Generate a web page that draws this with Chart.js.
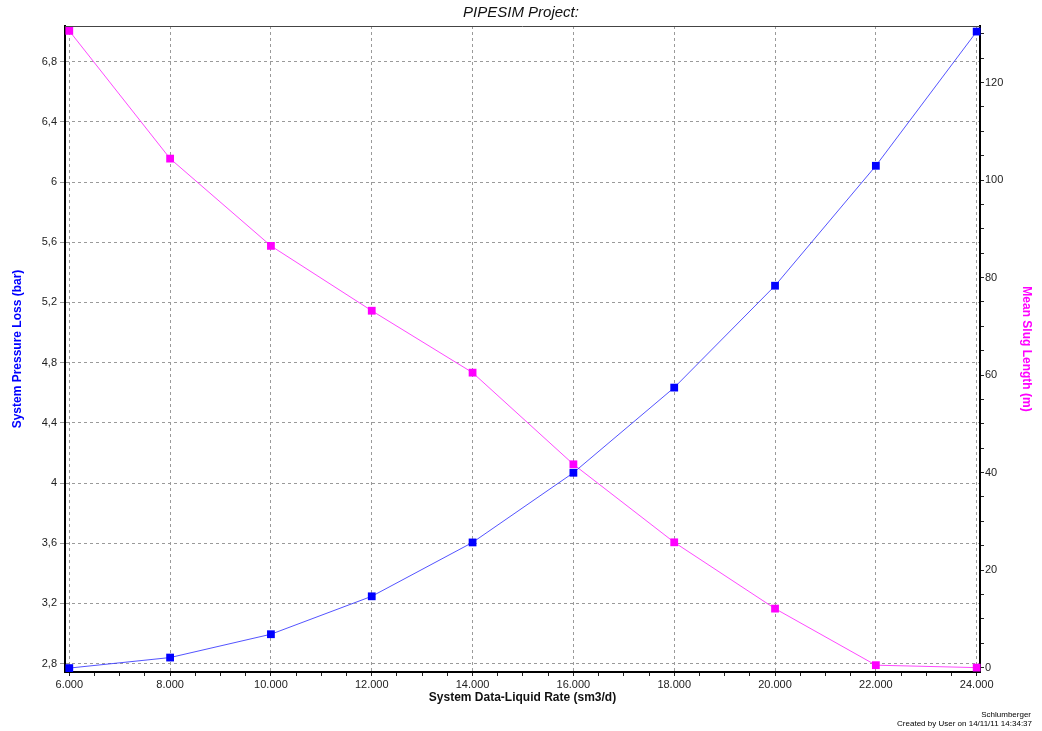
<!DOCTYPE html>
<html>
<head>
<meta charset="utf-8">
<script src="https://cdn.jsdelivr.net/npm/chart.js@4.4.0/dist/chart.umd.min.js"></script>
<style>
body { margin: 0; background: #fff; }
#wrap { width: 1042px; height: 731px; }
</style>
</head>
<body>
<div id="wrap"><canvas id="pipesim-chart" width="1042" height="731"></canvas></div>
<script>
const canvas = document.getElementById('pipesim-chart')

// data
const liquidRates = [6000, 8000, 10000, 12000, 14000, 16000, 18000, 20000, 22000, 24000]
const pressureLoss = [2.77, 2.84, 2.995, 3.247, 3.605, 4.068, 4.634, 5.311, 6.108, 7.0]
const slugLength = [130.6, 104.4, 86.5, 73.2, 60.5, 41.7, 25.7, 12.1, 0.5, 0.0]

// tick labels
const xTicks = [6000, 8000, 10000, 12000, 14000, 16000, 18000, 20000, 22000, 24000]
const leftTicks = [2.8, 3.2, 3.6, 4, 4.4, 4.8, 5.2, 5.6, 6, 6.4, 6.8]
const rightTicks = [0, 20, 40, 60, 80, 100, 120]

const gridGrey = '#9a9a9a'
const labelFont = { family: 'Liberation Sans, Arial, sans-serif', size: 11 }

function xyPoints(values) {
    return liquidRates.map((x, i) => ({ x: x, y: values[i] }))
}

function minorTicks(from, to, step) {
    const out = []
    for (let v = from; v <= to + 0.0001; v += step) out.push({ value: v })
    return out
}

const footerPlugin = {
    id: 'footer',
    afterDraw(chart) {
        const ctx = chart.ctx
        const area = chart.chartArea
        ctx.save()
        // thin top frame line
        ctx.strokeStyle = '#444'
        ctx.lineWidth = 1
        ctx.beginPath()
        ctx.moveTo(area.left, area.top + 0.5)
        ctx.lineTo(area.right, area.top + 0.5)
        ctx.stroke()
        ctx.fillStyle = '#000'
        ctx.textAlign = 'right'
        ctx.textBaseline = 'middle'
        ctx.font = '8px Liberation Sans, Arial, sans-serif'
        ctx.fillText('Schlumberger', 1031, 715)
        ctx.fillText('Created by User on 14/11/11 14:34:37', 1032, 724)
        ctx.restore()
    }
}

const pipesimData = {
    datasets: [{
        label: 'System Pressure Loss (bar)',
        data: xyPoints(pressureLoss),
        yAxisID: 'y',
        borderColor: 'rgba(40, 40, 255, 0.8)',
        backgroundColor: '#0000ff',
        borderWidth: 1,
        pointStyle: 'rect',
        pointRadius: 5.5,
        pointBorderWidth: 0,
        clip: false
    }, {
        label: 'Mean Slug Length (m)',
        data: xyPoints(slugLength),
        yAxisID: 'y1',
        borderColor: 'rgba(255, 40, 255, 0.85)',
        backgroundColor: '#ff00ff',
        borderWidth: 1,
        pointStyle: 'rect',
        pointRadius: 5.5,
        pointBorderWidth: 0,
        clip: false
    }]
}

const pipesimOptions = {
    responsive: false,
    animation: false,
    layout: { padding: 0 },
    plugins: {
        legend: { display: false },
        tooltip: { enabled: false },
        title: {
            display: true,
            text: 'PIPESIM Project:',
            color: '#111',
            font: { family: 'Liberation Sans, Arial, sans-serif', size: 15, style: 'italic', weight: 'normal', lineHeight: 1.2 },
            padding: { top: 4, bottom: 4 }
        }
    },
    scales: {
        x: {
            type: 'linear',
            min: 5915,
            max: 24066,
            afterBuildTicks: scale => { scale.ticks = minorTicks(6000, 24000, 500) },
            afterFit: scale => { scale.height = 59 },
            ticks: {
                autoSkip: false,
                maxRotation: 0,
                color: '#222',
                font: labelFont,
                padding: 2,
                callback: v => xTicks.includes(v) ? (v / 1000) + '.000' : ''
            },
            grid: {
                color: ctx => ctx.tick && xTicks.includes(ctx.tick.value) ? gridGrey : 'transparent',
                tickColor: '#222',
                tickLength: 4
            },
            border: { color: '#000', width: 2, dash: [3, 3] },
            title: {
                display: true,
                text: 'System Data-Liquid Rate (sm3/d)',
                color: '#111',
                font: { family: 'Liberation Sans, Arial, sans-serif', size: 12, weight: 'bold', lineHeight: 1.2 },
                padding: { top: 0, bottom: 26 }
            }
        },
        y: {
            position: 'left',
            min: 2.744,
            max: 7.037,
            afterBuildTicks: scale => { scale.ticks = leftTicks.map(v => ({ value: v })) },
            afterFit: scale => { scale.width = 65 },
            ticks: {
                color: '#222',
                font: labelFont,
                padding: 3,
                callback: v => String(Math.round(v * 10) / 10).replace('.', ',')
            },
            grid: {
                color: gridGrey,
                tickColor: gridGrey,
                tickLength: 5
            },
            border: { color: '#000', width: 2, dash: [3, 3] },
            title: {
                display: true,
                text: 'System Pressure Loss (bar)',
                color: '#0000ff',
                font: { family: 'Liberation Sans, Arial, sans-serif', size: 12, weight: 'bold', lineHeight: 1.2 },
                padding: { top: 10, bottom: 0 }
            }
        },
        y1: {
            position: 'right',
            min: -0.9,
            max: 131.6,
            afterBuildTicks: scale => { scale.ticks = minorTicks(0, 130, 5) },
            afterFit: scale => { scale.width = 62 },
            ticks: {
                autoSkip: false,
                color: '#222',
                font: labelFont,
                padding: 1,
                callback: v => rightTicks.includes(v) ? String(v) : ''
            },
            grid: {
                drawOnChartArea: false,
                tickColor: '#222',
                tickLength: 4
            },
            border: { color: '#000', width: 2 },
            title: {
                display: true,
                text: 'Mean Slug Length (m)',
                color: '#ff00ff',
                font: { family: 'Liberation Sans, Arial, sans-serif', size: 12, weight: 'bold', lineHeight: 1.2 },
                padding: { top: 8, bottom: 0 }
            }
        }
    }
}

let pipesimChart = new Chart(canvas, {
    type: 'line',
    data: pipesimData,
    options: pipesimOptions,
    plugins: [footerPlugin]
})
</script>
</body>
</html>
